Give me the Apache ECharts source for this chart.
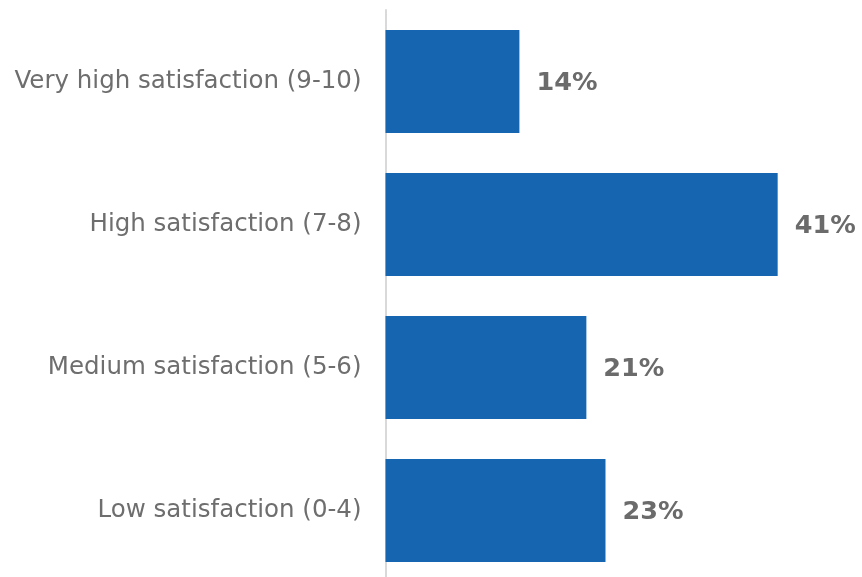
<!DOCTYPE html>
<html>
<head>
<meta charset="utf-8">
<script src="https://cdn.jsdelivr.net/npm/echarts@6/dist/echarts.min.js"></script>
<style>
  html, body { margin: 0; padding: 0; background: #ffffff; overflow: hidden; }
  #chart { width: 862px; height: 582px; }
</style>
</head>
<body>
<div id="chart"></div>
<script>
// Satisfaction levels, top to bottom
var categories = [
  'Very high satisfaction (9-10)',
  'High satisfaction (7-8)',
  'Medium satisfaction (5-6)',
  'Low satisfaction (0-4)'
];
// Share of respondents, percent
var shares = [14, 41, 21, 23];

var xMax = 45;
var pxPerUnit = 9.565;

var chart = echarts.init(document.getElementById('chart'), null, { renderer: 'canvas' });
chart.setOption({
  animation: false,
  backgroundColor: '#ffffff',
  grid: {
    left: 385.5,
    top: 10,
    width: xMax * pxPerUnit,
    height: 572,
    containLabel: false
  },
  xAxis: {
    type: 'value',
    min: 0,
    max: xMax,
    show: false
  },
  yAxis: {
    type: 'category',
    data: categories,
    inverse: true,
    axisLine: { show: true, lineStyle: { color: '#d9d9d9', width: 2 } },
    axisTick: { show: false },
    splitLine: { show: false },
    axisLabel: {
      margin: 24,
      color: '#6e6e6e',
      fontFamily: 'DejaVu Sans',
      fontSize: 24.5
    }
  },
  series: [{
    type: 'bar',
    data: shares,
    barCategoryGap: '28%',
    itemStyle: { color: '#1565b0' },
    label: {
      show: true,
      position: 'right',
      distance: 17,
      offset: [0, 1.5],
      formatter: '{c}%',
      color: '#6b6b6b',
      fontFamily: 'DejaVu Sans',
      fontWeight: 'bold',
      fontSize: 25.5
    }
  }]
});
</script>
</body>
</html>
